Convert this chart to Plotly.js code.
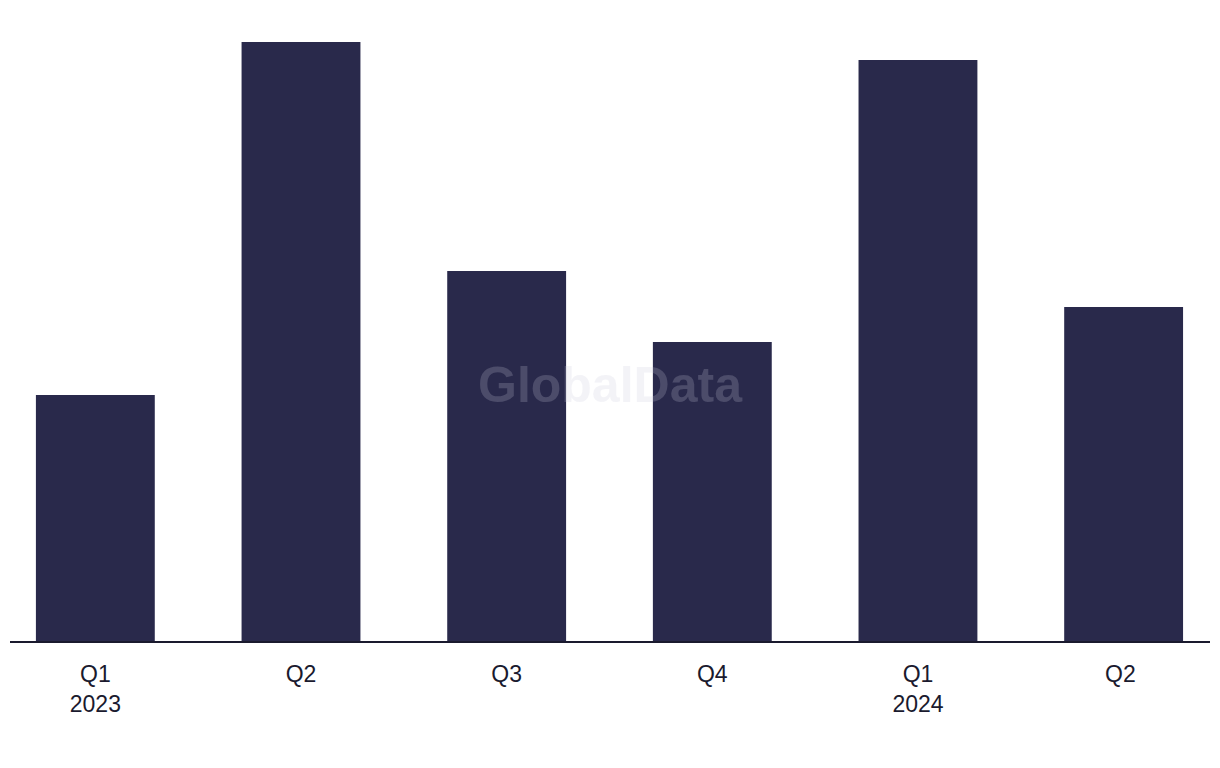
<!DOCTYPE html>
<html>
<head>
<meta charset="utf-8">
<script src="https://cdn.plot.ly/plotly-3.0.1.min.js"></script>
<style>html,body{margin:0;padding:0;background:#fff;}#chart{width:1220px;height:768px;}</style>
</head>
<body>
<div id="chart"></div>
<script>
var categories = ["Q1<br>2023", "Q2", "Q3", "Q4", "Q1<br>2024", "Q2 "];
var values = [24.6, 59.9, 37.0, 29.9, 58.1, 33.4];

var trace = {
  type: "bar",
  x: categories,
  y: values,
  marker: {color: "#29294B"},
  hoverinfo: "x+y"
};

var layout = {
  width: 1220,
  height: 768,
  margin: {l: 10, r: 10, t: 20, b: 127},
  paper_bgcolor: "#ffffff",
  plot_bgcolor: "#ffffff",
  bargap: 0.422,
  showlegend: false,
  font: {family: "Liberation Sans, Arial, sans-serif", color: "#1a1a2e", size: 23},
  xaxis: {
    type: "category",
    range: [-0.415, 5.42],
    showline: true,
    linecolor: "#1a1a2e",
    linewidth: 2,
    ticks: "outside",
    ticklen: 11,
    tickcolor: "rgba(0,0,0,0)",
    tickfont: {size: 23, color: "#1a1a2e"},
    showgrid: false,
    zeroline: false
  },
  yaxis: {
    range: [0, 62.1],
    visible: false,
    showgrid: false,
    zeroline: false
  },
  annotations: [{
    text: "<b>GlobalData</b>",
    xref: "paper", yref: "paper",
    x: 0.5, y: 0.412,
    showarrow: false,
    font: {size: 50, family: "Liberation Sans, Arial, sans-serif", color: "rgba(200,200,220,0.22)"}
  }]
};

Plotly.newPlot("chart", [trace], layout, {displayModeBar: false, staticPlot: true});
</script>
</body>
</html>
